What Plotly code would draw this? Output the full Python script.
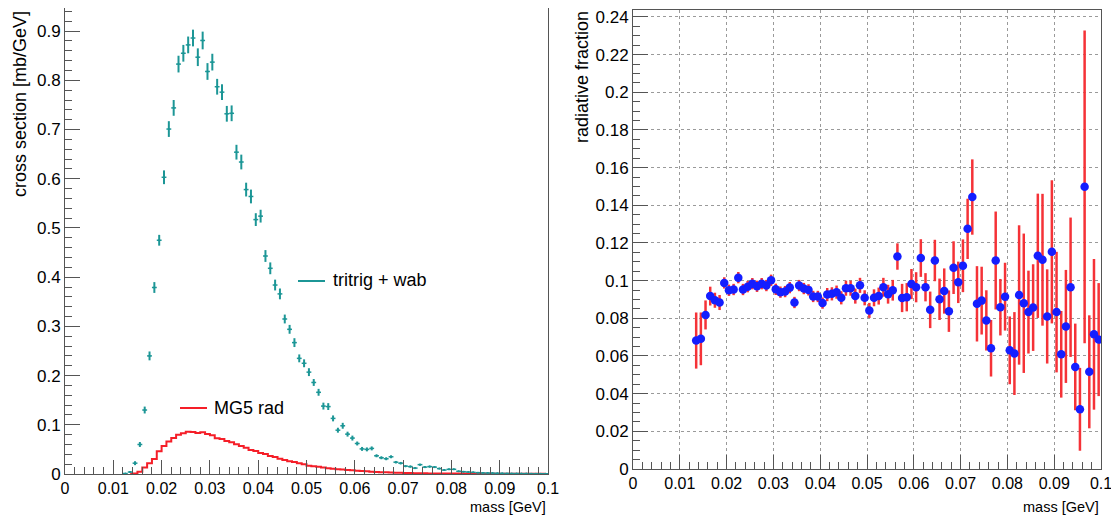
import plotly.graph_objects as go
from plotly.subplots import make_subplots

# ---------------- data ----------------
bin_width = 0.001
n_bins = 100
mass_centers = [round(bin_width * (i + 0.5), 4) for i in range(n_bins)]

# tritrig + wab cross section [mb/GeV] per bin (None = empty bin)
tritrig_wab = [None] * 12 + [
    0.001, 0.004, 0.022, 0.060, 0.130, 0.240, 0.379, 0.475, 0.603, 0.701,
    0.744, 0.833, 0.855, 0.872, 0.886, 0.847, 0.881, 0.818, 0.837, 0.787,
    0.776, 0.732, 0.733, 0.654, 0.634, 0.578, 0.564, 0.517, 0.524, 0.443,
    0.418, 0.384, 0.366, 0.315, 0.294, 0.267, 0.235, 0.225, 0.207, 0.186,
    0.166, 0.138, 0.137, 0.113, 0.089, 0.098, 0.081, 0.073, 0.062, 0.051,
    0.050, 0.052, 0.037, 0.033, 0.031, 0.035, 0.024, 0.022, 0.016, 0.015,
    0.012, 0.019, 0.014, 0.015, 0.014, 0.011, 0.008, 0.0095, 0.0095, 0.0055,
    0.0047, 0.004, 0.0034, 0.0027, 0.0022, 0.002, 0.0018, 0.0015, 0.0013, 0.0012,
    0.001, 0.001, 0.0008, 0.0008, 0.0007, 0.0006, 0.0005, 0.0005,
]
tritrig_wab_err = [None] * 12 + [
    0.001, 0.002, 0.004, 0.005, 0.007, 0.009, 0.011, 0.011, 0.014, 0.016,
    0.016, 0.017, 0.017, 0.017, 0.017, 0.018, 0.018, 0.017, 0.017, 0.016,
    0.016, 0.016, 0.016, 0.015, 0.015, 0.014, 0.014, 0.013, 0.013, 0.012,
    0.012, 0.011, 0.011, 0.009, 0.009, 0.009, 0.008, 0.008, 0.008, 0.007,
    0.007, 0.007, 0.007, 0.006, 0.005, 0.006, 0.005, 0.005, 0.004, 0.004,
    0.004, 0.004, 0.003, 0.003, 0.003, 0.003, 0.0025, 0.0025, 0.002, 0.002,
    0.002, 0.002, 0.002, 0.002, 0.002, 0.0015, 0.0015, 0.0015, 0.0015, 0.0012,
    0.0012, 0.001, 0.001, 0.001, 0.001, 0.001, 0.0008, 0.0008, 0.0008, 0.0007,
    0.0007, 0.0006, 0.0006, 0.0005, 0.0005, 0.0005, 0.0004, 0.0004,
]

# MG5 rad cross section [mb/GeV] per bin (None = empty bin)
mg5_rad = [None] * 13 + [
    0.0005, 0.001, 0.0047, 0.013, 0.022, 0.0305, 0.046, 0.057, 0.066, 0.073,
    0.080, 0.083, 0.086, 0.0854, 0.0834, 0.0847, 0.0813, 0.0786, 0.0725, 0.0711,
    0.0671, 0.0644, 0.0603, 0.0569, 0.0535, 0.0488, 0.0468, 0.0427, 0.0407, 0.0366,
    0.0346, 0.0312, 0.0285, 0.0258, 0.0244, 0.0217, 0.0197, 0.0169, 0.0156, 0.0145,
    0.013, 0.0118, 0.0108, 0.0098, 0.009, 0.0082, 0.0074, 0.0066, 0.006, 0.0054,
    0.0048, 0.0042, 0.0038, 0.0034, 0.003, 0.0027, 0.0024, 0.0021, 0.0019, 0.0017,
    0.0015, 0.0013, 0.0012, 0.0011, 0.001, 0.001, 0.0009, 0.0009, 0.0008, 0.0008,
    0.0007, 0.0007, 0.0006, 0.0006, 0.0005, 0.0005, 0.0005, 0.0004, 0.0004, 0.0004,
    0.0004, 0.0003, 0.0003, 0.0003, 0.0003, 0.0003, 0.0003,
]

# radiative fraction (bins 13..99)
rad_frac = [None] * 13 + [
    0.0682, 0.0691, 0.0818, 0.0918, 0.0896, 0.0884, 0.0988, 0.0949, 0.0953, 0.1016,
    0.0953, 0.0968, 0.0984, 0.0970, 0.0984, 0.0974, 0.1002, 0.0954, 0.0939, 0.0942,
    0.0963, 0.0884, 0.0974, 0.0958, 0.0951, 0.0916, 0.0916, 0.0881, 0.0926, 0.0930,
    0.0939, 0.0909, 0.0960, 0.0960, 0.0918, 0.0975, 0.0909, 0.0842, 0.0909, 0.0918,
    0.0965, 0.0928, 0.0949, 0.1128, 0.0908, 0.0912, 0.0982, 0.0965, 0.1120, 0.0965,
    0.0845, 0.1107, 0.0901, 0.0945, 0.0838, 0.1069, 0.0991, 0.1079, 0.1275, 0.1444,
    0.0877, 0.0894, 0.0789, 0.0641, 0.1107, 0.0859, 0.0915, 0.0630, 0.0613, 0.0924,
    0.0880, 0.0833, 0.0857, 0.1132, 0.1111, 0.0810, 0.1153, 0.0833, 0.0609, 0.0757,
    0.0965, 0.0542, 0.0317, 0.1498, 0.0516, 0.0715, 0.0687,
]
rad_frac_err = [None] * 13 + [
    0.0149, 0.014, 0.0077, 0.005, 0.004, 0.004, 0.003, 0.003, 0.003, 0.003,
    0.003, 0.003, 0.003, 0.003, 0.003, 0.003, 0.003, 0.003, 0.003, 0.003,
    0.003, 0.003, 0.003, 0.003, 0.003, 0.003, 0.003, 0.003, 0.0035, 0.0035,
    0.0035, 0.0035, 0.004, 0.004, 0.004, 0.004, 0.004, 0.004, 0.0045, 0.0045,
    0.005, 0.005, 0.0055, 0.007, 0.0075, 0.0075, 0.008, 0.008, 0.010, 0.0075,
    0.0097, 0.011, 0.011, 0.012, 0.011, 0.014, 0.011, 0.014, 0.016, 0.020,
    0.020, 0.018, 0.016, 0.015, 0.026, 0.015, 0.018, 0.018, 0.022, 0.037,
    0.037, 0.022, 0.023, 0.033, 0.035, 0.025, 0.038, 0.032, 0.023, 0.030,
    0.037, 0.023, 0.022, 0.083, 0.030, 0.040, 0.030,
]

x_ticks = [0, 0.01, 0.02, 0.03, 0.04, 0.05, 0.06, 0.07, 0.08, 0.09, 0.1]
x_tick_text = ["0", "0.01", "0.02", "0.03", "0.04", "0.05", "0.06", "0.07", "0.08", "0.09", "0.1"]
y1_ticks = [0, 0.1, 0.2, 0.3, 0.4, 0.5, 0.6, 0.7, 0.8, 0.9]
y1_tick_text = ["0", "0.1", "0.2", "0.3", "0.4", "0.5", "0.6", "0.7", "0.8", "0.9"]
y2_ticks = [0, 0.02, 0.04, 0.06, 0.08, 0.1, 0.12, 0.14, 0.16, 0.18, 0.2, 0.22, 0.24]
y2_tick_text = ["0", "0.02", "0.04", "0.06", "0.08", "0.1", "0.12", "0.14", "0.16", "0.18", "0.2", "0.22", "0.24"]

# ---------------- styling ----------------
W, H = 1119, 519
OFF = 8  # page body margin: figure pixel (x, y) appears at screen (x+8, y+8)
TEAL = "rgb(28,150,150)"
RED = "rgb(245,30,40)"
BLUE = "rgb(20,30,255)"
EBAR_RED = "rgb(245,50,55)"
FONT = "Liberation Sans, Arial, Helvetica, sans-serif"
AXCOL = "#555555"


def px(xs):
    return min(max((xs - OFF) / W, 0.0), 1.0)


def py(ys):
    return min(max(1 - (ys - OFF) / H, 0.0), 1.0)


fig = make_subplots(rows=1, cols=2)

# MG5 rad histogram (step line)
fig.add_trace(go.Scatter(
    x=mass_centers, y=mg5_rad, mode="lines",
    line=dict(color=RED, width=2, shape="hvh"),
    showlegend=False, hoverinfo="skip"), row=1, col=1)

# tritrig + wab points with errors
fig.add_trace(go.Scatter(
    x=mass_centers, y=tritrig_wab, mode="markers",
    marker=dict(color=TEAL, size=2),
    error_y=dict(type="data", array=tritrig_wab_err, color=TEAL, thickness=2, width=0),
    error_x=dict(type="constant", value=bin_width / 2, color=TEAL, thickness=1.5, width=0),
    showlegend=False), row=1, col=1)

# radiative fraction
fig.add_trace(go.Scatter(
    x=mass_centers, y=rad_frac, mode="markers",
    marker=dict(color=BLUE, size=8.5),
    error_y=dict(type="data", array=rad_frac_err, color=EBAR_RED, thickness=2.5, width=0),
    showlegend=False), row=1, col=2)

# plot frames in screen pixels (top limited by the page margin)
L1, R1, T1, B1 = 65, 548, 8, 474
L2, R2, T2, B2 = 633, 1101, 10, 469
Y1_MAX = 0.947   # value at top of left frame
Y2_MAX = 0.2437  # value at top of right frame

common_x = dict(
    range=[0, 0.1], tickmode="array", tickvals=x_ticks, ticktext=x_tick_text,
    ticks="inside", ticklen=14, tickcolor=AXCOL, tickwidth=1,
    minor=dict(dtick=0.002, ticks="inside", ticklen=7, tickcolor=AXCOL, showgrid=False),
    showline=True, linecolor=AXCOL, linewidth=1, mirror=True, automargin=False,
    zeroline=False, tickfont=dict(family=FONT, size=16, color="black"),
    ticklabeloverflow="allow",
)

fig.update_xaxes(domain=[px(L1), px(R1)], showgrid=False, **common_x, row=1, col=1)
fig.update_xaxes(domain=[px(L2), px(R2)], showgrid=True, gridcolor="#9a9a9a",
                 griddash="dot", gridwidth=1, **common_x, row=1, col=2)

fig.update_yaxes(
    domain=[py(B1), py(T1)], range=[0, Y1_MAX],
    tickmode="array", tickvals=y1_ticks, ticktext=y1_tick_text,
    ticks="inside", ticklen=15, tickcolor=AXCOL, automargin=False,
    minor=dict(dtick=0.02, ticks="inside", ticklen=7, tickcolor=AXCOL, showgrid=False),
    showline=True, linecolor=AXCOL, mirror=True, showgrid=False, zeroline=False,
    tickfont=dict(family=FONT, size=17, color="black"), ticklabeloverflow="allow",
    row=1, col=1)

fig.update_yaxes(
    domain=[py(B2), py(T2)], range=[0, Y2_MAX],
    tickmode="array", tickvals=y2_ticks, ticktext=y2_tick_text,
    ticks="inside", ticklen=15, tickcolor=AXCOL, automargin=False,
    minor=dict(dtick=0.005, ticks="inside", ticklen=7, tickcolor=AXCOL, showgrid=False),
    showline=True, linecolor=AXCOL, mirror=True, showgrid=True, gridcolor="#9a9a9a",
    griddash="dot", gridwidth=1, zeroline=False,
    tickfont=dict(family=FONT, size=17, color="black"), ticklabeloverflow="allow",
    row=1, col=2)

annotations = [
    dict(text="cross section [mb/GeV]", x=px(20), y=py(9), xref="paper", yref="paper",
         textangle=-90, xanchor="center", yanchor="top", showarrow=False,
         font=dict(family=FONT, size=18, color="black")),
    dict(text="radiative fraction", x=px(582), y=py(9), xref="paper", yref="paper",
         textangle=-90, xanchor="center", yanchor="top", showarrow=False,
         font=dict(family=FONT, size=18, color="black")),
    dict(text="mass [GeV]", x=px(R1), y=py(507), xref="paper", yref="paper",
         xanchor="right", yanchor="middle", showarrow=False,
         font=dict(family=FONT, size=14.5, color="black")),
    dict(text="mass [GeV]", x=px(R2), y=py(507), xref="paper", yref="paper",
         xanchor="right", yanchor="middle", showarrow=False,
         font=dict(family=FONT, size=14.5, color="black")),
    dict(text="tritrig + wab", x=px(331), y=py(280), xref="paper", yref="paper",
         xanchor="left", yanchor="middle",
         showarrow=False, font=dict(family=FONT, size=18, color="black")),
    dict(text="MG5 rad", x=px(212), y=py(408), xref="paper", yref="paper",
         xanchor="left", yanchor="middle",
         showarrow=False, font=dict(family=FONT, size=18, color="black")),
]

shapes = [
    dict(type="line", xref="paper", yref="paper",
         x0=px(298), x1=px(325), y0=py(281), y1=py(281),
         line=dict(color=TEAL, width=2)),
    dict(type="line", xref="paper", yref="paper",
         x0=px(180), x1=px(207), y0=py(408), y1=py(408),
         line=dict(color=RED, width=2)),
]

fig.update_layout(
    width=W, height=H, margin=dict(l=0, r=0, t=0, b=0),
    paper_bgcolor="white", plot_bgcolor="white",
    annotations=annotations, shapes=shapes, showlegend=False,
    font=dict(family=FONT, color="black"),
)

fig.write_html("out.html")
